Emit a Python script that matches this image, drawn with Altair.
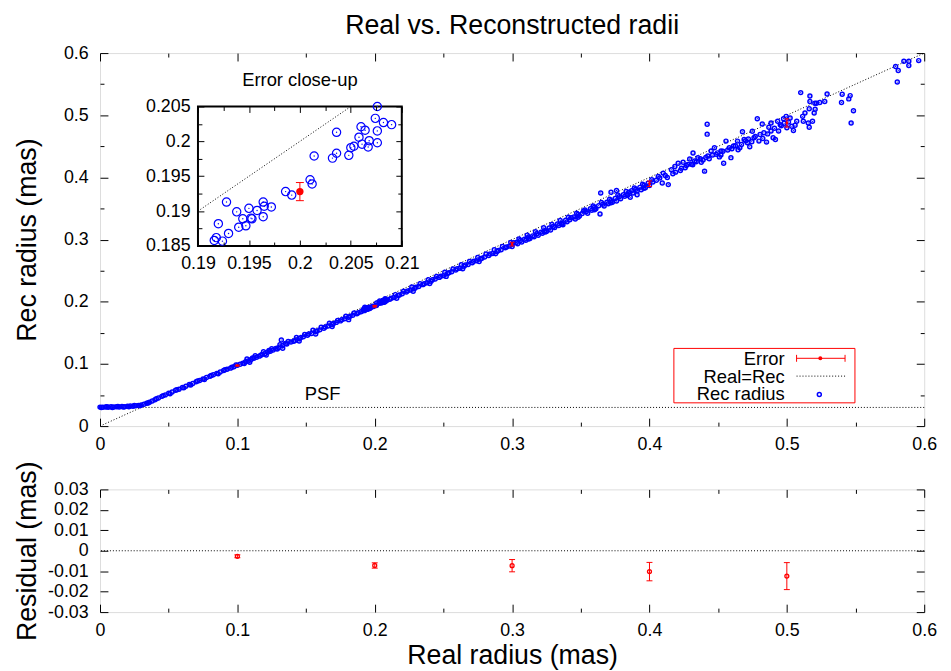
import altair as alt
import pandas as pd

FONT = "Liberation Sans"
BLUE = "#0000ff"
RED = "#ff0000"
BLACK = "#000000"

chart_title = "Real vs. Reconstructed radii"
x_title = "Real radius (mas)"
y_title_main = "Rec radius (mas)"
y_title_resid = "Residual (mas)"
inset_title = "Error close-up"
psf_label = "PSF"
legend_labels = ["Error", "Real=Rec", "Rec radius"]

# (real radius, reconstructed radius)
flat_part = [
    (0.000, 0.0305), (0.001, 0.0298), (0.002, 0.0302), (0.004, 0.0308), (0.005, 0.0312),
    (0.006, 0.0303), (0.008, 0.0310), (0.009, 0.0300), (0.010, 0.0306), (0.012, 0.0312),
    (0.013, 0.0316), (0.014, 0.0308), (0.016, 0.0315), (0.017, 0.0306), (0.018, 0.0311),
    (0.020, 0.0318), (0.021, 0.0312), (0.022, 0.0322), (0.024, 0.0320), (0.025, 0.0331),
    (0.026, 0.0328), (0.028, 0.0333), (0.029, 0.0326), (0.030, 0.0340),
]
knee_part = [
    (0.032, 0.0352), (0.034, 0.0368), (0.035, 0.0371), (0.036, 0.0384), (0.038, 0.0405),
    (0.040, 0.0425), (0.041, 0.0440), (0.0425, 0.0452), (0.045, 0.0478), (0.046, 0.0490),
    (0.0475, 0.0502), (0.050, 0.0530), (0.051, 0.0520), (0.0525, 0.0548), (0.055, 0.0575),
    (0.056, 0.0585), (0.0575, 0.0592), (0.060, 0.0620), (0.061, 0.0615), (0.0625, 0.0641),
    (0.065, 0.0668), (0.066, 0.0660), (0.0675, 0.0685), (0.070, 0.0712), (0.071, 0.0725),
    (0.0725, 0.0733), (0.075, 0.0756), (0.076, 0.0748), (0.0775, 0.0780), (0.080, 0.0802),
    (0.081, 0.0815), (0.0825, 0.0826), (0.085, 0.0848), (0.086, 0.0840), (0.0875, 0.0870),
    (0.090, 0.0893), (0.091, 0.0905), (0.0925, 0.0915), (0.095, 0.0932), (0.096, 0.0948),
    (0.0975, 0.0955), (0.099, 0.0985), (0.100, 0.0978),
]
linear_part = [
    (0.102, 0.0995), (0.104, 0.1012), (0.105, 0.1005), (0.106, 0.1035), (0.108, 0.1048),
    (0.110, 0.1072), (0.111, 0.1095), (0.112, 0.1090), (0.114, 0.1108), (0.116, 0.1125),
    (0.117, 0.1140), (0.118, 0.1150), (0.120, 0.1165), (0.122, 0.1188), (0.123, 0.1215),
    (0.124, 0.1205), (0.126, 0.1222), (0.128, 0.1248), (0.129, 0.1240), (0.130, 0.1262),
    (0.132, 0.1385), (0.133, 0.1295), (0.135, 0.1330), (0.136, 0.1320), (0.139, 0.1352),
    (0.141, 0.1365), (0.142, 0.1378), (0.145, 0.1405), (0.146, 0.1420), (0.148, 0.1435),
    (0.151, 0.1462), (0.152, 0.1480), (0.154, 0.1490), (0.157, 0.1522), (0.158, 0.1530),
    (0.160, 0.1548), (0.163, 0.1575), (0.164, 0.1595), (0.166, 0.1610), (0.169, 0.1635),
    (0.170, 0.1650), (0.172, 0.1668), (0.175, 0.1692), (0.176, 0.1712), (0.178, 0.1725),
    (0.181, 0.1750), (0.182, 0.1765), (0.184, 0.1782), (0.187, 0.1808), (0.188, 0.1825),
    (0.190, 0.1838),
    (0.211, 0.2040), (0.212, 0.2055), (0.214, 0.2068), (0.217, 0.2100), (0.218, 0.2110),
    (0.220, 0.2128), (0.223, 0.2155), (0.224, 0.2175), (0.226, 0.2190), (0.229, 0.2215),
    (0.230, 0.2235), (0.232, 0.2245), (0.235, 0.2275), (0.236, 0.2290), (0.238, 0.2305),
    (0.241, 0.2330), (0.242, 0.2355), (0.244, 0.2365), (0.247, 0.2392), (0.248, 0.2410),
    (0.250, 0.2420), (0.253, 0.2455), (0.254, 0.2465), (0.256, 0.2482), (0.259, 0.2510),
    (0.260, 0.2530), (0.262, 0.2540), (0.265, 0.2570), (0.266, 0.2592), (0.268, 0.2600),
    (0.271, 0.2628), (0.272, 0.2650), (0.274, 0.2660), (0.277, 0.2688), (0.278, 0.2700),
    (0.280, 0.2720), (0.283, 0.2745), (0.284, 0.2768), (0.286, 0.2775), (0.289, 0.2808),
    (0.290, 0.2825), (0.292, 0.2835), (0.295, 0.2868), (0.296, 0.2880), (0.298, 0.2895),
]
upper_edge = [
    (0.107, 0.1080), (0.113, 0.1130), (0.119, 0.1195), (0.125, 0.1245), (0.131, 0.1310),
    (0.137, 0.1360), (0.143, 0.1425), (0.149, 0.1475), (0.155, 0.1540), (0.161, 0.1590),
    (0.167, 0.1655), (0.173, 0.1700), (0.179, 0.1768), (0.185, 0.1818), (0.215, 0.2115),
    (0.221, 0.2170), (0.227, 0.2238), (0.233, 0.2290), (0.239, 0.2355), (0.245, 0.2408),
    (0.251, 0.2475), (0.257, 0.2528), (0.263, 0.2595), (0.269, 0.2648), (0.275, 0.2712),
    (0.281, 0.2768), (0.287, 0.2835), (0.293, 0.2888), (0.299, 0.2955), (0.305, 0.3010),
    (0.311, 0.3072), (0.317, 0.3125), (0.323, 0.3190), (0.329, 0.3242), (0.335, 0.3308),
    (0.341, 0.3360), (0.347, 0.3425), (0.353, 0.3478), (0.359, 0.3542), (0.365, 0.3598),
    (0.371, 0.3650), (0.377, 0.3718), (0.383, 0.3772), (0.389, 0.3830), (0.395, 0.3892),
]
lower_edge = [
    (0.109, 0.1025), (0.121, 0.1142), (0.133, 0.1252), (0.145, 0.1370), (0.157, 0.1482),
    (0.169, 0.1600), (0.181, 0.1712), (0.216, 0.2055), (0.228, 0.2170), (0.240, 0.2292),
    (0.252, 0.2408), (0.264, 0.2532), (0.276, 0.2648), (0.288, 0.2772), (0.300, 0.2888),
    (0.312, 0.3010), (0.324, 0.3122), (0.336, 0.3245), (0.348, 0.3358), (0.360, 0.3480),
    (0.372, 0.3592), (0.384, 0.3712), (0.396, 0.3825),
]
closeup_part = [
    (0.2076, 0.2050), (0.2074, 0.2033), (0.2082, 0.2027), (0.2090, 0.2024), (0.2076, 0.2015),
    (0.2060, 0.2021), (0.2064, 0.2016), (0.2036, 0.2013), (0.2058, 0.2006), (0.2068, 0.2001),
    (0.2076, 0.1998), (0.2067, 0.1992), (0.2061, 0.1996), (0.2053, 0.1993), (0.2050, 0.1991),
    (0.2048, 0.1980), (0.2036, 0.1983), (0.2032, 0.1976), (0.2014, 0.1979), (0.2010, 0.1945),
    (0.2012, 0.1939), (0.1992, 0.1923), (0.1986, 0.1928), (0.1928, 0.1913), (0.1938, 0.1899),
    (0.1950, 0.1904), (0.1958, 0.1901), (0.1964, 0.1913), (0.1965, 0.1907), (0.1972, 0.1906),
    (0.1964, 0.1892), (0.1952, 0.1890), (0.1944, 0.1889), (0.1947, 0.1879), (0.1940, 0.1877),
    (0.1920, 0.1882), (0.1930, 0.1868), (0.1918, 0.1862), (0.1916, 0.1858), (0.1924, 0.1857),
    (0.1953, 0.1889),
]
wide_part = [
    (0.300, 0.2925), (0.301, 0.2948), (0.303, 0.2955), (0.304, 0.2932), (0.306, 0.2985),
    (0.307, 0.2960), (0.309, 0.3005), (0.310, 0.2990), (0.312, 0.3040), (0.313, 0.3018),
    (0.315, 0.3060), (0.316, 0.3045), (0.318, 0.3095), (0.319, 0.3070), (0.321, 0.3120),
    (0.322, 0.3100), (0.324, 0.3148), (0.325, 0.3130), (0.327, 0.3185), (0.328, 0.3155),
    (0.330, 0.3210), (0.331, 0.3195), (0.333, 0.3250), (0.334, 0.3225), (0.336, 0.3262),
    (0.337, 0.3240), (0.339, 0.3310), (0.340, 0.3285), (0.342, 0.3320), (0.343, 0.3350),
    (0.345, 0.3365), (0.346, 0.3330), (0.348, 0.3405), (0.349, 0.3380), (0.351, 0.3420),
    (0.352, 0.3460), (0.354, 0.3450), (0.355, 0.3425), (0.357, 0.3495), (0.358, 0.3470),
    (0.360, 0.3520), (0.361, 0.3495), (0.363, 0.3545), (0.3645, 0.3750), (0.364, 0.3410),
    (0.366, 0.3570), (0.367, 0.3540), (0.369, 0.3600), (0.370, 0.3575), (0.372, 0.3625),
    (0.372, 0.3760), (0.373, 0.3600), (0.375, 0.3660), (0.376, 0.3620), (0.376, 0.3790),
    (0.378, 0.3690), (0.379, 0.3655), (0.381, 0.3720), (0.382, 0.3695), (0.384, 0.3730),
    (0.385, 0.3760), (0.386, 0.3680), (0.387, 0.3785), (0.388, 0.3750), (0.390, 0.3810),
    (0.391, 0.3780), (0.391, 0.3720), (0.393, 0.3840), (0.394, 0.3800), (0.396, 0.3870),
    (0.397, 0.3835), (0.399, 0.3905), (0.400, 0.3870),
]
scatter_part = [
    (0.4017, 0.3963), (0.4025, 0.3925), (0.405, 0.3955), (0.4064, 0.4016), (0.4075, 0.3990),
    (0.4093, 0.3910), (0.4100, 0.4069), (0.4115, 0.4030), (0.413, 0.4000), (0.4137, 0.3884),
    (0.4160, 0.4122), (0.417, 0.4060), (0.4185, 0.4175), (0.419, 0.4085), (0.4209, 0.4228),
    (0.4225, 0.4110), (0.4233, 0.4149), (0.4245, 0.4244), (0.426, 0.4155), (0.4269, 0.4191),
    (0.428, 0.4210), (0.4293, 0.4297), (0.4305, 0.4212), (0.4315, 0.4205), (0.4317, 0.4392),
    (0.4329, 0.4265), (0.434, 0.4250), (0.4353, 0.4318), (0.437, 0.4300), (0.4377, 0.4244),
    (0.439, 0.4280), (0.4401, 0.4101), (0.441, 0.4320), (0.4420, 0.4855), (0.4420, 0.4696),
    (0.4425, 0.4345), (0.4435, 0.4300), (0.446, 0.4360), (0.4449, 0.4425), (0.4473, 0.4478),
    (0.4485, 0.4371), (0.4495, 0.4395), (0.4509, 0.4330), (0.452, 0.4360), (0.4521, 0.4425),
    (0.4535, 0.4420), (0.4540, 0.4228), (0.4557, 0.4584), (0.457, 0.4440), (0.4581, 0.4478),
    (0.4593, 0.4318), (0.460, 0.4460), (0.4612, 0.4504), (0.4625, 0.4510), (0.4641, 0.4584),
    (0.4645, 0.4445), (0.4658, 0.4478), (0.467, 0.4530), (0.4677, 0.4733), (0.4689, 0.4610),
    (0.470, 0.4590), (0.4713, 0.4557), (0.472, 0.4620), (0.4730, 0.4493), (0.4745, 0.4575),
    (0.4749, 0.4743), (0.4761, 0.4637), (0.477, 0.4660), (0.4785, 0.4945), (0.4797, 0.4584),
    (0.4805, 0.4690), (0.4821, 0.4860), (0.4825, 0.4625), (0.4833, 0.4717), (0.4852, 0.4568),
    (0.486, 0.4700), (0.4869, 0.4807), (0.4885, 0.4876), (0.4885, 0.4745), (0.4900, 0.4637),
    (0.491, 0.4790), (0.4917, 0.4610), (0.4933, 0.4902), (0.494, 0.4745), (0.4952, 0.4849),
    (0.496, 0.4830), (0.4976, 0.4945), (0.498, 0.4870), (0.4995, 0.4982), (0.500, 0.4800),
    (0.5012, 0.4892), (0.5024, 0.4956), (0.5036, 0.4823), (0.5048, 0.4754), (0.5060, 0.4839),
    (0.5072, 0.4902), (0.5101, 0.5364), (0.5115, 0.4982), (0.5120, 0.4902), (0.5132, 0.5035),
    (0.5156, 0.4876), (0.5163, 0.4807), (0.5163, 0.5104), (0.5168, 0.5220), (0.5168, 0.5311),
    (0.5187, 0.4902), (0.5199, 0.5035), (0.5204, 0.5194), (0.5206, 0.5098), (0.5216, 0.5194),
    (0.5240, 0.5205), (0.5276, 0.5220), (0.5293, 0.5343), (0.5398, 0.5205), (0.5403, 0.5337),
    (0.5451, 0.5263), (0.5461, 0.5316), (0.5468, 0.4876), (0.5485, 0.5072), (0.5792, 0.5784),
    (0.5804, 0.5534), (0.5811, 0.5720), (0.5852, 0.5869), (0.5888, 0.5869), (0.5888, 0.5800),
    (0.5960, 0.5879),
]
samples = (flat_part + knee_part + linear_part + upper_edge + lower_edge + closeup_part
           + wide_part + scatter_part)
real_radius = [p[0] for p in samples]
rec_radius = [p[1] for p in samples]

err_real = [0.1, 0.2, 0.3, 0.4, 0.5]
err_resid = [-0.0027, -0.0072, -0.0073, -0.0102, -0.0124]
err_sigma = [0.0007, 0.0013, 0.0030, 0.0045, 0.0066]
psf_level = [0.03]
diag_main = [0.0, 0.6]
diag_inset = [0.19, 0.205]

main_major = [0, 0.1, 0.2, 0.3, 0.4, 0.5, 0.6]
main_minor = [0.05, 0.15, 0.25, 0.35, 0.45, 0.55]
inset_x_major = [0.19, 0.195, 0.2, 0.205, 0.21]
inset_x_minor = [0.1925, 0.1975, 0.2025, 0.2075]
inset_y_major = [0.185, 0.19, 0.195, 0.2, 0.205]
inset_y_minor = [0.1875, 0.1925, 0.1975, 0.2025]
resid_y_major = [-0.03, -0.02, -0.01, 0, 0.01, 0.02, 0.03]
resid_y_minor = []

# layout (pixels)
W, H, RH = 833, 377, 124
IL, IR, IT, IB = 99, 305, 54, 195  # inset box inside the main plot
TICK_FS = 18
TEXT_FS = 18.6
TITLE_FS = 27


def qs(domain, rng=None):
    if rng is None:
        return alt.Scale(domain=domain, nice=False, zero=False)
    return alt.Scale(domain=domain, range=rng, nice=False, zero=False)


mx, my = qs([0, 0.6]), qs([0, 0.6])
ix, iy = qs([0.19, 0.21], [IL, IR]), qs([0.185, 0.205], [IB, IT])
rx, ry = qs([0, 0.6]), qs([-0.03, 0.03])


def label_axis(orient, values, pad, offset=0, **kw):
    opts = dict(orient=orient, offset=offset, values=values, ticks=False, tickSize=0,
                domain=False, grid=False, labelPadding=pad, labelFont=FONT,
                labelFontSize=TICK_FS, labelColor=BLACK, labelExpr="'' + datum.value",
                labelFlush=False, labelOverlap=False, zindex=1,
                titleFont=FONT, titleFontSize=TITLE_FS, titleFontWeight="normal",
                titleColor=BLACK)
    opts.update(kw)
    if "title" not in opts:
        opts["title"] = ""
    return alt.Axis(**opts)


def tick_axis(orient, offset, values, size):
    return alt.Axis(orient=orient, offset=offset, values=values, ticks=True, tickSize=size,
                    tickWidth=1, tickColor=BLACK, labels=False, domain=False, grid=False,
                    title="", zindex=1)


def axis_layers(xs, ys, xlab, ylab, xmaj, xmin, ymaj, ymin, left, right, top, bottom,
                pw, ph, major, minor):
    df = pd.DataFrame({"ax": [xmaj[0]], "ay": [ymaj[0]]})
    base = alt.Chart(df).mark_point(opacity=0)
    specs = [
        (xlab, ylab),
        (tick_axis("top", -bottom, xmaj, major), tick_axis("right", left - pw, ymaj, major)),
        (tick_axis("top", -bottom, xmin, minor), tick_axis("right", left - pw, ymin, minor)),
        (tick_axis("bottom", top - ph, xmaj, major), tick_axis("left", -right, ymaj, major)),
        (tick_axis("bottom", top - ph, xmin, minor), tick_axis("left", -right, ymin, minor)),
    ]
    return [base.encode(x=alt.X("ax:Q", scale=xs, axis=xa), y=alt.Y("ay:Q", scale=ys, axis=ya))
            for xa, ya in specs]


pts = pd.DataFrame({"real": real_radius, "rec": rec_radius})
errs = pd.DataFrame({"real": err_real, "resid": err_resid, "sigma": err_sigma})
err_calc = dict(rec="datum.real + datum.resid",
                lo="datum.real + datum.resid - datum.sigma",
                hi="datum.real + datum.resid + datum.sigma",
                rlo="datum.resid - datum.sigma",
                rhi="datum.resid + datum.sigma")

# ---------------- main panel ----------------
psf_rule = alt.Chart(pd.DataFrame({"psf": psf_level})).mark_rule(
    color=BLACK, strokeWidth=1, strokeDash=[1, 2]).encode(
    y=alt.Y("psf:Q", scale=my, axis=None))
diag_line = alt.Chart(pd.DataFrame({"a": diag_main, "b": diag_main})).mark_line(
    color=BLACK, strokeWidth=1, strokeDash=[1, 2]).encode(
    x=alt.X("a:Q", scale=mx, axis=None), y=alt.Y("b:Q", scale=my, axis=None))

err_base = alt.Chart(errs).transform_calculate(**err_calc)
main_err_bar = err_base.mark_rule(color=RED, strokeWidth=1.2).encode(
    x=alt.X("real:Q", scale=mx, axis=None), y=alt.Y("lo:Q", scale=my, axis=None), y2="hi:Q")
main_err_cap_lo = err_base.mark_rule(color=RED, strokeWidth=1, xOffset=-2.5, x2Offset=2.5).encode(
    x=alt.X("real:Q", scale=mx, axis=None), x2="real:Q", y=alt.Y("lo:Q", scale=my, axis=None))
main_err_cap_hi = err_base.mark_rule(color=RED, strokeWidth=1, xOffset=-2.5, x2Offset=2.5).encode(
    x=alt.X("real:Q", scale=mx, axis=None), x2="real:Q", y=alt.Y("hi:Q", scale=my, axis=None))
main_err_pt = err_base.mark_point(shape="circle", filled=True, size=8, color=RED, opacity=1).encode(
    x=alt.X("real:Q", scale=mx, axis=None), y=alt.Y("rec:Q", scale=my, axis=None))

main_scatter = alt.Chart(pts).mark_point(
    shape="circle", filled=False, size=16, strokeWidth=1.5, color=BLUE, opacity=1).encode(
    x=alt.X("real:Q", scale=mx, axis=None), y=alt.Y("rec:Q", scale=my, axis=None))
main_dots = alt.Chart(pts).mark_point(
    shape="circle", filled=True, size=1.5, color=BLUE, opacity=1).encode(
    x=alt.X("real:Q", scale=mx, axis=None), y=alt.Y("rec:Q", scale=my, axis=None))

psf_text = alt.Chart(pd.DataFrame({"t": [psf_label]})).mark_text(
    font=FONT, fontSize=TEXT_FS, align="center", baseline="alphabetic", color=BLACK).encode(
    x=alt.value(225), y=alt.value(351), text="t:N")
inset_title_text = alt.Chart(pd.DataFrame({"t": [inset_title]})).mark_text(
    font=FONT, fontSize=TEXT_FS, align="center", baseline="alphabetic", color=BLACK).encode(
    x=alt.value(202), y=alt.value(33), text="t:N")

# legend (drawn like gnuplot's key box)
legend_layers = []
legend_rows = [315, 333, 351]
for lab, yb in zip(legend_labels, legend_rows):
    legend_layers.append(alt.Chart(pd.DataFrame({"t": [lab]})).mark_text(
        font=FONT, fontSize=TEXT_FS, align="right", baseline="alphabetic", color=BLACK).encode(
        x=alt.value(692), y=alt.value(yb), text="t:N"))
one = pd.DataFrame({"k": [0]})
legend_layers += [
    alt.Chart(one).mark_rect(filled=False, stroke=RED, strokeWidth=1, fillOpacity=0).encode(
        x=alt.value(580), x2=alt.value(763), y=alt.value(298.5), y2=alt.value(353.5)),
    alt.Chart(one).mark_rule(color=RED, strokeWidth=1).encode(
        x=alt.value(704), x2=alt.value(753), y=alt.value(308.5)),
    alt.Chart(one).mark_rule(color=RED, strokeWidth=1).encode(
        x=alt.value(704), y=alt.value(305), y2=alt.value(312)),
    alt.Chart(one).mark_rule(color=RED, strokeWidth=1).encode(
        x=alt.value(753), y=alt.value(305), y2=alt.value(312)),
    alt.Chart(one).mark_point(shape="circle", filled=True, size=16, color=RED, opacity=1).encode(
        x=alt.value(728), y=alt.value(308.5)),
    alt.Chart(one).mark_rule(color=BLACK, strokeWidth=1, strokeDash=[1, 2]).encode(
        x=alt.value(704), x2=alt.value(753), y=alt.value(326.5)),
    alt.Chart(one).mark_point(shape="circle", filled=False, size=16, strokeWidth=1.5,
                              color=BLUE, opacity=1).encode(
        x=alt.value(727), y=alt.value(345)),
]

# ---------------- inset ----------------
inset_box = alt.Chart(pd.DataFrame({"x0": [0.19], "x1": [0.21], "y0": [0.185], "y1": [0.205]})).mark_rect(
    fill="white", stroke=BLACK, strokeWidth=2).encode(
    x=alt.X("x0:Q", scale=ix, axis=None), x2="x1:Q",
    y=alt.Y("y0:Q", scale=iy, axis=None), y2="y1:Q")
inset_diag = alt.Chart(pd.DataFrame({"a": diag_inset, "b": diag_inset})).mark_line(
    color=BLACK, strokeWidth=1, strokeDash=[1, 2]).encode(
    x=alt.X("a:Q", scale=ix, axis=None), y=alt.Y("b:Q", scale=iy, axis=None))
inset_pts = alt.Chart(pts).transform_filter(
    alt.FieldRangePredicate(field="real", range=[0.19, 0.21])).transform_filter(
    alt.FieldRangePredicate(field="rec", range=[0.185, 0.205]))
inset_scatter = inset_pts.mark_point(
    shape="circle", filled=False, size=70, strokeWidth=1.2, color=BLUE, opacity=1).encode(
    x=alt.X("real:Q", scale=ix, axis=None), y=alt.Y("rec:Q", scale=iy, axis=None))
inset_dots = inset_pts.mark_point(
    shape="circle", filled=True, size=2, color=BLUE, opacity=1).encode(
    x=alt.X("real:Q", scale=ix, axis=None), y=alt.Y("rec:Q", scale=iy, axis=None))
inset_err = err_base.transform_filter(alt.FieldRangePredicate(field="real", range=[0.19, 0.21]))
inset_err_bar = inset_err.mark_rule(color=RED, strokeWidth=1).encode(
    x=alt.X("real:Q", scale=ix, axis=None), y=alt.Y("lo:Q", scale=iy, axis=None), y2="hi:Q")
inset_err_cap_lo = inset_err.mark_rule(color=RED, strokeWidth=1, xOffset=-4, x2Offset=4).encode(
    x=alt.X("real:Q", scale=ix, axis=None), x2="real:Q", y=alt.Y("lo:Q", scale=iy, axis=None))
inset_err_cap_hi = inset_err.mark_rule(color=RED, strokeWidth=1, xOffset=-4, x2Offset=4).encode(
    x=alt.X("real:Q", scale=ix, axis=None), x2="real:Q", y=alt.Y("hi:Q", scale=iy, axis=None))
inset_err_pt = inset_err.mark_point(shape="circle", filled=True, size=55, color=RED, opacity=1).encode(
    x=alt.X("real:Q", scale=ix, axis=None), y=alt.Y("rec:Q", scale=iy, axis=None))

main_axes = axis_layers(
    mx, my,
    label_axis("bottom", main_major, 10),
    label_axis("left", main_major, 12, title=y_title_main, titleX=-73, titleY=H / 2,
               titleAngle=270, titleAlign="center", titleBaseline="middle"),
    main_major, main_minor, main_major, main_minor, 0, W, 0, H, W, H, 8, 4)
inset_axes = axis_layers(
    ix, iy,
    label_axis("bottom", inset_x_major, 9, offset=IB - H),
    label_axis("left", inset_y_major, 8, offset=-IL),
    inset_x_major, inset_x_minor, inset_y_major, inset_y_minor, IL, IR, IT, IB, W, H, 6, 4)

main = alt.layer(
    psf_rule, diag_line, main_scatter, main_dots,
    main_err_bar, main_err_cap_lo, main_err_cap_hi, main_err_pt,
    psf_text, inset_title_text, *legend_layers,
    inset_box, inset_diag, inset_scatter, inset_dots,
    inset_err_bar, inset_err_cap_lo, inset_err_cap_hi, inset_err_pt,
    *main_axes, *inset_axes,
).resolve_scale(x="independent", y="independent").properties(
    width=W, height=H,
    title=alt.TitleParams(text=chart_title, font=FONT, fontSize=TITLE_FS, fontWeight="normal",
                          anchor="middle", frame="group", offset=4, color=BLACK))

# ---------------- residual panel ----------------
zero_rule = alt.Chart(pd.DataFrame({"z": [0.0]})).mark_rule(
    color=BLACK, strokeWidth=1, strokeDash=[1, 2]).encode(
    y=alt.Y("z:Q", scale=ry, axis=None))
res_bar = err_base.mark_rule(color=RED, strokeWidth=1).encode(
    x=alt.X("real:Q", scale=rx, axis=None), y=alt.Y("rlo:Q", scale=ry, axis=None), y2="rhi:Q")
res_cap_lo = err_base.mark_rule(color=RED, strokeWidth=1, xOffset=-3, x2Offset=3).encode(
    x=alt.X("real:Q", scale=rx, axis=None), x2="real:Q", y=alt.Y("rlo:Q", scale=ry, axis=None))
res_cap_hi = err_base.mark_rule(color=RED, strokeWidth=1, xOffset=-3, x2Offset=3).encode(
    x=alt.X("real:Q", scale=rx, axis=None), x2="real:Q", y=alt.Y("rhi:Q", scale=ry, axis=None))
res_pt = err_base.mark_point(shape="circle", filled=False, size=16, strokeWidth=1.3,
                             color=RED, opacity=1).encode(
    x=alt.X("real:Q", scale=rx, axis=None), y=alt.Y("resid:Q", scale=ry, axis=None))

resid_axes = axis_layers(
    rx, ry,
    label_axis("bottom", main_major, 10, title=x_title, titleX=W / 2, titleY=52,
               titleAngle=0, titleAlign="center", titleBaseline="alphabetic"),
    label_axis("left", resid_y_major, 12, title=y_title_resid, titleX=-73, titleY=RH / 2,
               titleAngle=270, titleAlign="center", titleBaseline="middle"),
    main_major, main_minor, resid_y_major, resid_y_minor, 0, W, 0, RH, W, RH, 8, 4)

resid = alt.layer(
    zero_rule, res_bar, res_cap_lo, res_cap_hi, res_pt, *resid_axes,
).resolve_scale(x="independent", y="independent").properties(width=W, height=RH)

chart = alt.vconcat(main, resid, spacing=5).properties(
    padding={"left": 5, "top": 0, "right": 5, "bottom": 0}
).configure_view(stroke=BLACK, strokeWidth=2).configure(background="white")

chart.save("out.html", embed_options={"renderer": "svg", "actions": False})
